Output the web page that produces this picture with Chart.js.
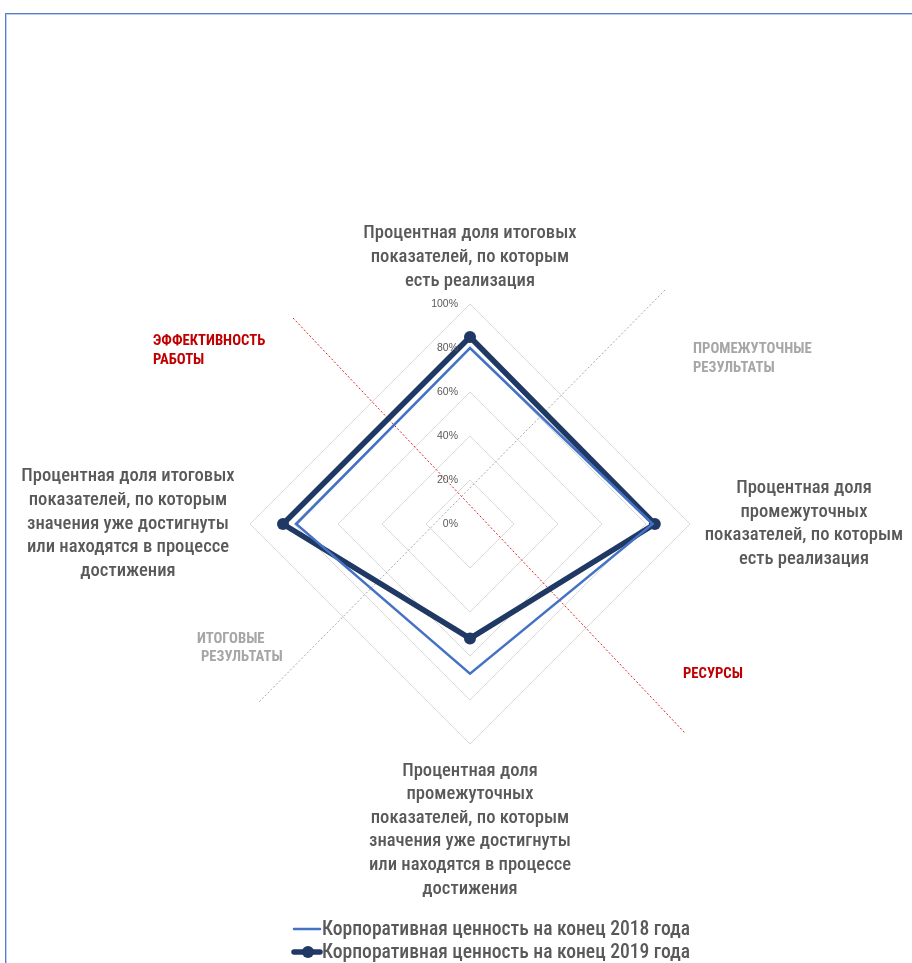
<!DOCTYPE html>
<html>
<head>
<meta charset="utf-8">
<script src="https://cdn.jsdelivr.net/npm/chart.js@4.4.1/dist/chart.umd.min.js"></script>
<style>
  html, body { margin: 0; padding: 0; background: #ffffff; }
  #wrap { position: relative; width: 912px; height: 963px; overflow: hidden; }
  #frame { position: absolute; left: 5px; top: 13px; width: 930px; height: 980px;
           border-top: 1px solid #5a7cc0; border-left: 1px solid #5a7cc0;
           box-shadow: inset 1px 1px 0 #b7cff6; }
  canvas { position: absolute; left: 0; top: 0; }
</style>
</head>
<body>
<div id="wrap">
  <div id="frame"></div>
  <canvas id="c" width="912" height="963"></canvas>
</div>
<script>
// ---- data ----
const categories = [
  ['Процентная доля итоговых', 'показателей, по которым', 'есть реализация'],
  ['Процентная доля', 'промежуточных', 'показателей, по которым', 'есть реализация'],
  ['Процентная доля', 'промежуточных', 'показателей, по которым', 'значения уже достигнуты', 'или находятся в процессе', 'достижения'],
  ['Процентная доля итоговых', 'показателей, по которым', 'значения уже достигнуты', 'или находятся в процессе', 'достижения']
];
const seriesNames = ['Корпоративная ценность на конец 2018 года', 'Корпоративная ценность на конец 2019 года'];
const values2018 = [80, 83, 68, 79];
const values2019 = [85, 84, 52, 85];
const tickValues = [0, 20, 40, 60, 80, 100];
const tickLabels = ['0%', '20%', '40%', '60%', '80%', '100%'];
const annotations = [
  { lines: ['ЭФФЕКТИВНОСТЬ', 'РАБОТЫ'], color: '#c00000' },
  { lines: ['ПРОМЕЖУТОЧНЫЕ', 'РЕЗУЛЬТАТЫ'], color: '#a6a6a6' },
  { lines: ['ИТОГОВЫЕ', 'РЕЗУЛЬТАТЫ'], color: '#a6a6a6' },
  { lines: ['РЕСУРСЫ'], color: '#c00000' }
];

// ---- layout / style ----
const NARROW = '"Liberation Sans Narrow", "Arial Narrow", "Roboto Condensed", "DejaVu Sans Condensed", sans-serif';
const labelExtra = [23, 114, 27, 122];      // distance beyond outer ring
const annotPos = [[153, 341], [693, 349], [[197, 639], [201, 657]], [683, 674]];
const guideLines = [
  { from: [665, 290], to: [258, 703], color: '#a6a6a6' },
  { from: [293, 318], to: [685, 733], color: '#e02020' }
];

const overlay = {
  id: 'overlay',
  beforeDatasetsDraw(chart) {
    const ctx = chart.ctx;
    ctx.save();
    ctx.lineWidth = 1;
    ctx.setLineDash([2, 2]);
    guideLines.forEach(g => {
      ctx.strokeStyle = g.color;
      ctx.beginPath();
      ctx.moveTo(g.from[0], g.from[1]);
      ctx.lineTo(g.to[0], g.to[1]);
      ctx.stroke();
    });
    ctx.restore();
  },
  afterDraw(chart) {
    const ctx = chart.ctx;
    const s = chart.scales.r;
    const R = s.drawingArea;
    ctx.save();
    // tick labels
    ctx.font = '10.5px "Liberation Sans", Arial, sans-serif';
    ctx.fillStyle = '#595959';
    ctx.textAlign = 'right';
    ctx.textBaseline = 'middle';
    tickValues.forEach((v, i) => {
      const d = s.getDistanceFromCenterForValue(v);
      ctx.fillText(tickLabels[i], s.xCenter - 12, s.yCenter - d);
    });
    // category labels
    ctx.font = '500 18.6px ' + NARROW;
    ctx.fillStyle = '#595959';
    ctx.textAlign = 'center';
    const lh = 23.6;
    categories.forEach((lines, i) => {
      const p = s.getPointPosition(i, R + labelExtra[i]);
      const n = lines.length;
      lines.forEach((t, k) => {
        let y;
        if (i === 0) y = p.y - (n - 1 - k) * lh;
        else if (i === 2) y = p.y + k * lh;
        else y = p.y + (k - (n - 1) / 2) * lh;
        ctx.fillText(t, p.x, y);
      });
    });
    // annotations
    ctx.font = 'bold 14.7px ' + NARROW;
    ctx.textAlign = 'left';
    annotations.forEach((a, i) => {
      ctx.fillStyle = a.color;
      a.lines.forEach((t, k) => {
        const pos = Array.isArray(annotPos[i][0]) ? annotPos[i][k] : [annotPos[i][0], annotPos[i][1] + k * 19];
        ctx.fillText(t, pos[0], pos[1]);
      });
    });
    // legend
    const ds = chart.data.datasets;
    ctx.font = '500 19.6px ' + NARROW;
    const lx = 293, ly = [929, 952];
    ds.forEach((d, i) => {
      ctx.strokeStyle = d.borderColor;
      ctx.lineWidth = d.borderWidth;
      ctx.lineCap = 'round';
      ctx.beginPath();
      ctx.moveTo(lx + 1, ly[i]);
      ctx.lineTo(lx + 27, ly[i]);
      ctx.stroke();
      if (d.pointRadius > 0) {
        ctx.fillStyle = d.pointBackgroundColor;
        ctx.beginPath();
        ctx.arc(lx + 15, ly[i], d.pointRadius, 0, Math.PI * 2);
        ctx.fill();
      }
      ctx.fillStyle = '#595959';
      ctx.textAlign = 'left';
      ctx.fillText(d.label, lx + 29, ly[i] + 1);
    });
    ctx.restore();
  }
};

new Chart(document.getElementById('c'), {
  type: 'radar',
  data: {
    labels: categories,
    datasets: [
      { label: seriesNames[0], data: values2018, borderColor: '#4472c4', borderWidth: 2.5,
        pointRadius: 0, pointHoverRadius: 0, fill: false, tension: 0 },
      { label: seriesNames[1], data: values2019, borderColor: '#1f3864', borderWidth: 5.5,
        pointRadius: 6, pointBackgroundColor: '#1f3864', pointBorderWidth: 0, fill: false, tension: 0 }
    ]
  },
  options: {
    responsive: false,
    animation: false,
    devicePixelRatio: 1,
    layout: { padding: { left: 250, right: 222, top: 304, bottom: 219 } },
    scales: {
      r: {
        min: 0, max: 100,
        ticks: { stepSize: 20, display: false },
        pointLabels: { display: false },
        angleLines: { display: false },
        grid: { color: '#d9d9d9', lineWidth: 1 }
      }
    },
    plugins: { legend: { display: false }, tooltip: { enabled: false } }
  },
  plugins: [overlay]
});
</script>
</body>
</html>
